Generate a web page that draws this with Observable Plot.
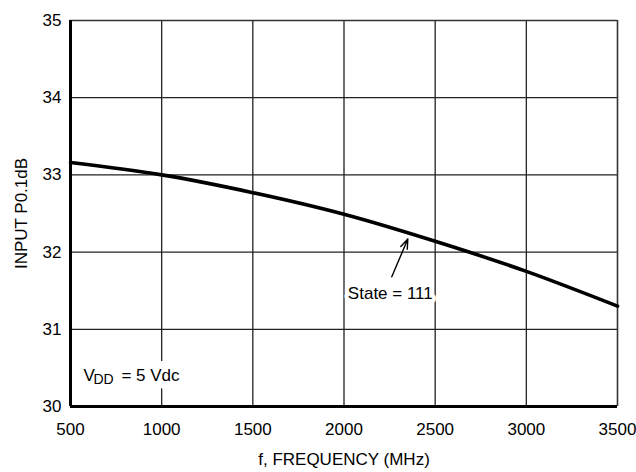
<!DOCTYPE html>
<html>
<head>
<meta charset="utf-8">
<script src="https://cdn.jsdelivr.net/npm/d3@7"></script>
<script src="https://cdn.jsdelivr.net/npm/@observablehq/plot@0.6"></script>
<style>
  html, body { margin: 0; padding: 0; background: #fff; }
  svg { display: block; }
</style>
</head>
<body>
<div id="chart"></div>
<script>
// Data
const freq = [500, 1000, 1500, 2000, 2500, 3000, 3500];
const p01dB = [33.16, 33.0, 32.77, 32.49, 32.14, 31.75, 31.3];
const xTicks = [500, 1000, 1500, 2000, 2500, 3000, 3500];
const yTicks = [30, 31, 32, 33, 34, 35];
const seriesLabel = "State = 111";
const labelPos = {x: 2254, y: 31.46};
const arrowFrom = {x: 2262, y: 31.68};
const arrowTo = {x: 2350, y: 32.17};
const vddPos = {x: 571, y: 30.40};

const data = freq.map((f, i) => ({f, v: p01dB[i]}));
const font = "'Liberation Sans', Arial, Helvetica, sans-serif";

const chart = Plot.plot({
  width: 636,
  height: 472,
  marginLeft: 70,
  marginRight: 19,
  marginTop: 20,
  marginBottom: 66,
  style: {fontFamily: font, fontSize: "17px", color: "#000", background: "#fff"},
  x: {domain: [500, 3500], ticks: xTicks, tickSize: 0, tickPadding: 16, tickFormat: d => String(d),
      label: "f, FREQUENCY (MHz)", labelAnchor: "center", labelArrow: "none", labelOffset: 58},
  y: {domain: [30, 35], ticks: yTicks, tickSize: 0, tickPadding: 9, tickFormat: d => String(d),
      label: "INPUT P0.1dB", labelAnchor: "center", labelArrow: "none", labelOffset: 56},
  marks: [
    Plot.ruleX(xTicks.slice(1, -1), {stroke: "#222", strokeWidth: 1.3}),
    Plot.ruleY(yTicks.slice(1, -1), {stroke: "#222", strokeWidth: 1.3}),
    Plot.ruleY([35], {stroke: "#333", strokeWidth: 1.6}),
    Plot.ruleX([3500], {stroke: "#333", strokeWidth: 1.6}),
    Plot.text([vddPos], {x: "x", y: "y", text: () => "= 5 Vdc", textAnchor: "start", fontSize: 17, dx: 38,
      stroke: "white", strokeWidth: 16, fill: "black"}),
    Plot.text([vddPos], {x: "x", y: "y", text: () => "V", textAnchor: "start", fontSize: 17, fill: "black"}),
    Plot.text([vddPos], {x: "x", y: "y", text: () => "DD", textAnchor: "start", fontSize: 14, dx: 10, dy: 4, fill: "black"}),
    Plot.text([labelPos], {x: "x", y: "y", text: () => seriesLabel, fontSize: 17,
      stroke: "white", strokeWidth: 8, fill: "black"}),
    Plot.line(data, {x: "f", y: "v", curve: "natural", stroke: "black", strokeWidth: 3.6}),
    Plot.arrow([{a: arrowFrom, b: arrowTo}], {x1: d => d.a.x, y1: d => d.a.y, x2: d => d.b.x, y2: d => d.b.y,
      stroke: "black", strokeWidth: 1.4, headLength: 11, headAngle: 40}),
    Plot.ruleY([30], {stroke: "black", strokeWidth: 3}),
    Plot.ruleX([500], {stroke: "black", strokeWidth: 3})
  ]
});
document.getElementById("chart").appendChild(chart);
</script>
</body>
</html>
